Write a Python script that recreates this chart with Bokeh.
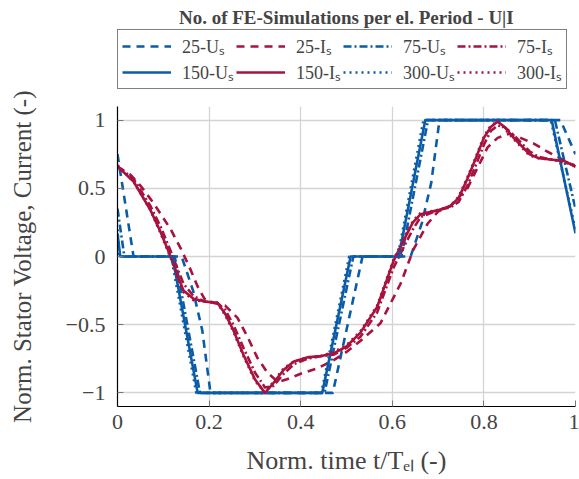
from bokeh.plotting import figure
from bokeh.layouts import column
from bokeh.models import Legend, LegendItem, FixedTicker, Range1d, Label
from bokeh.embed import file_html
from bokeh.resources import INLINE

# Normalised stator voltage U_s (piecewise, per sampling resolution)
t_u25 = [0, 0.035, 0.14, 0.165, 0.185, 0.203, 0.47, 0.535, 0.64, 0.665, 0.685, 0.703, 0.967, 1.0]
u_25 = [0.75, 0, 0, -0.25, -0.54, -1, -1, 0, 0, 0.25, 0.54, 1, 1, 0.75]

t_u75 = [0, 0.015, 0.125, 0.18, 0.452, 0.515, 0.62, 0.678, 0.955, 1.0]
u_75 = [0.35, 0, 0, -1, -1, 0, 0, 1, 1, 0.35]

t_u150 = [0, 0.006, 0.12, 0.175, 0.447, 0.509, 0.614, 0.672, 0.948, 1.0]
u_150 = [0.17, 0, 0, -1, -1, 0, 0, 1, 1, 0.17]

t_u300 = [0, 0.004, 0.117, 0.172, 0.445, 0.506, 0.612, 0.668, 0.946, 1.0]
u_300 = [0.2, 0, 0, -1, -1, 0, 0, 1, 1, 0.2]

# Normalised stator current I_s
t_i25 = [0, 0.028, 0.05, 0.079, 0.116, 0.138, 0.16, 0.175, 0.19, 0.21, 0.235, 0.262,
         0.284, 0.305, 0.327, 0.35, 0.37, 0.4, 0.437, 0.472, 0.5, 0.53, 0.574, 0.618,
         0.646, 0.677, 0.7, 0.727, 0.764, 0.786, 0.808, 0.83, 0.855, 0.88, 0.908,
         0.938, 0.967, 1.0]
i_25 = [0.66, 0.6, 0.52, 0.39, 0.2, 0.06, -0.1, -0.22, -0.31, -0.34, -0.36, -0.45,
        -0.59, -0.74, -0.85, -0.92, -0.9, -0.86, -0.82, -0.76, -0.7, -0.62, -0.49, -0.2,
        0.05, 0.24, 0.33, 0.37, 0.5, 0.65, 0.8, 0.87, 0.9, 0.87, 0.83,
        0.77, 0.72, 0.66]

t_i = [0, 0.035, 0.072, 0.094, 0.116, 0.13, 0.144, 0.166, 0.19, 0.218, 0.235, 0.253,
       0.275, 0.3, 0.322, 0.34, 0.363, 0.385, 0.414, 0.445, 0.472, 0.5, 0.53, 0.567,
       0.603, 0.625, 0.645, 0.662, 0.7, 0.727, 0.745, 0.764, 0.78, 0.8, 0.815, 0.83,
       0.845, 0.865, 0.9, 0.92, 0.95, 0.975, 1.0]
i_75 = [0.66, 0.57, 0.37, 0.22, 0.04, -0.08, -0.2, -0.29, -0.33, -0.34, -0.39, -0.5,
        -0.67, -0.85, -0.96, -0.95, -0.86, -0.79, -0.75, -0.73, -0.72, -0.67, -0.59, -0.41,
        -0.08, 0.07, 0.2, 0.29, 0.34, 0.36, 0.4, 0.52, 0.65, 0.82, 0.92, 0.96,
        0.95, 0.89, 0.77, 0.73, 0.71, 0.70, 0.66]
i_150 = [0.66, 0.55, 0.34, 0.18, 0.0, -0.13, -0.25, -0.31, -0.33, -0.34, -0.42, -0.54,
         -0.72, -0.9, -1.0, -0.93, -0.83, -0.77, -0.74, -0.73, -0.71, -0.66, -0.56, -0.37,
         -0.03, 0.12, 0.25, 0.31, 0.34, 0.37, 0.43, 0.57, 0.7, 0.87, 0.95, 0.99,
         0.95, 0.87, 0.75, 0.72, 0.71, 0.70, 0.66]
i_300 = [0.67, 0.55, 0.34, 0.17, -0.01, -0.14, -0.26, -0.32, -0.33, -0.34, -0.43, -0.55,
         -0.73, -0.91, -1.0, -0.92, -0.82, -0.77, -0.74, -0.73, -0.7, -0.65, -0.55, -0.36,
         -0.02, 0.13, 0.26, 0.32, 0.34, 0.37, 0.44, 0.58, 0.71, 0.88, 0.96, 0.99,
         0.94, 0.86, 0.74, 0.72, 0.71, 0.69, 0.67]

x_ticks = [0, 0.2, 0.4, 0.6, 0.8, 1]
x_labels = ["0", "0.2", "0.4", "0.6", "0.8", "1"]
y_ticks = [-1, -0.5, 0, 0.5, 1]
y_labels = ["\u22121", "\u22120.5", "0", "0.5", "1"]

BLUE = "#0B5CA8"
RED = "#A8123E"
SERIF = "Liberation Serif"
LW = 2.6

series = [
    ("25-U\u209b", t_u25, u_25, BLUE, "8 6"),
    ("25-I\u209b", t_i25, i_25, RED, "8 6"),
    ("75-U\u209b", t_u75, u_75, BLUE, "8 3 2 3"),
    ("75-I\u209b", t_i, i_75, RED, "8 3 2 3"),
    ("150-U\u209b", t_u150, u_150, BLUE, "solid"),
    ("150-I\u209b", t_i, i_150, RED, "solid"),
    ("300-U\u209b", t_u300, u_300, BLUE, "2 4"),
    ("300-I\u209b", t_i, i_300, RED, "2 4"),
]

# ---- header strip: title and legend (frame aligned with the main axes) ----
head = figure(width=579, height=90, output_backend="svg", toolbar_location=None,
              x_axis_type=None, y_axis_type=None,
              min_border_left=117, min_border_right=4, min_border_top=0,
              min_border_bottom=0,
              x_range=Range1d(0, 1), y_range=Range1d(5, 6))
head.outline_line_color = None
head.add_layout(Label(x=229, y=73, x_units="screen", y_units="screen",
                      text="No. of FE-Simulations per el. Period - U|I",
                      text_align="center", text_baseline="middle",
                      text_font=SERIF, text_font_style="bold",
                      text_font_size="19px"))

# legend keys: same series, lying outside the header's visible y range
items = []
for label, xs, ys, color, dash in series:
    key = head.line(xs, ys, line_color=color, line_width=LW, line_dash=dash)
    items.append(LegendItem(label=label, renderers=[key]))

legend = Legend(items=items, orientation="horizontal", ncols=4,
                location=(0, 1),
                label_text_font=SERIF, label_text_font_size="18px",
                glyph_width=49, glyph_height=18, label_height=18,
                label_standoff=11, spacing=2, padding=4, margin=0,
                border_line_color="black", border_line_width=1.2,
                background_fill_alpha=1)
head.add_layout(legend, "center")

# ---- main axes ----
p = figure(width=579, height=389, output_backend="svg", toolbar_location=None,
           x_range=Range1d(0, 1), y_range=Range1d(-1.1, 1.1),
           min_border_left=117, min_border_right=4, min_border_bottom=73,
           min_border_top=16)

for label, xs, ys, color, dash in series:
    p.line(xs, ys, line_color=color, line_width=LW, line_dash=dash,
           line_join="round")

p.xaxis.ticker = FixedTicker(ticks=x_ticks)
p.yaxis.ticker = FixedTicker(ticks=y_ticks)
p.xaxis.major_label_overrides = dict(zip(x_ticks, x_labels))
p.yaxis.major_label_overrides = dict(zip(y_ticks, y_labels))

p.xaxis.axis_label = "Norm. time t/T\u2091\u2097 (-)"
p.yaxis.axis_label = "Norm. Stator Voltage, Current (-)"
for ax in (p.xaxis[0], p.yaxis[0]):
    ax.axis_label_text_font = SERIF
    ax.axis_label_text_font_style = "normal"
    ax.axis_label_text_font_size = "25px"
    ax.major_label_text_font = SERIF
    ax.major_label_text_font_size = "22px"
    ax.axis_line_color = "black"
    ax.axis_line_width = 1.2
    ax.major_tick_in = 6
    ax.major_tick_out = 0
    ax.major_tick_line_color = "#777777"
    ax.minor_tick_line_color = None
p.xaxis.axis_label_text_font_size = "26px"
p.xaxis.major_label_standoff = 8
p.xaxis.axis_label_standoff = 14
p.yaxis.major_label_standoff = 12
p.yaxis.axis_label_standoff = 27

p.grid.grid_line_color = "#d4d4d4"
p.grid.grid_line_width = 1.3
p.outline_line_color = None

layout = column(head, p, spacing=0)
open("out.html", "w").write(file_html(layout, INLINE))
